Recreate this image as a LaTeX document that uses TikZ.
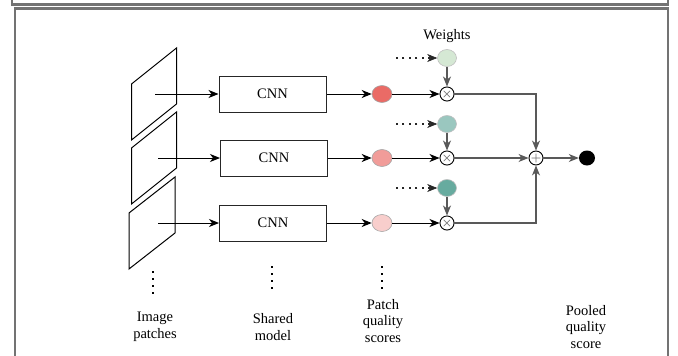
\documentclass[tikz,border=0pt]{standalone}
\usepackage{fontspec}
\setmainfont{Liberation Serif}
\usetikzlibrary{arrows.meta,shapes.geometric}

\definecolor{scoreA}{HTML}{EA6B66}
\definecolor{scoreB}{HTML}{F19C99}
\definecolor{scoreC}{HTML}{F8CECC}
\definecolor{weightA}{HTML}{D5E8D4}
\definecolor{weightB}{HTML}{9AC7BF}
\definecolor{weightC}{HTML}{67AB9F}

\begin{document}
\begin{tikzpicture}
		[x=1pt,y=-1pt,
		font=\fontsize{14.5}{16.5}\selectfont,
		>={Stealth[length=10pt,width=8pt,inset=3pt]},
		frame/.style={draw=black!55,line width=2.2pt},
		patch/.style={draw=black,line width=1pt,line join=miter},
		cnn/.style={draw=black!85,line width=1pt,minimum width=107pt,minimum height=36pt,inner sep=0pt},
		score/.style={ellipse,draw=black!35,line width=0.6pt,minimum width=20pt,minimum height=17pt,inner sep=0pt},
		weight/.style={ellipse,draw=black!25,line width=0.6pt,minimum width=19pt,minimum height=17pt,inner sep=0pt},
		op/.style={circle,draw=black,line width=0.9pt,fill=white,minimum size=14pt,inner sep=0pt,text=black!60,font=\fontsize{12}{12}\selectfont\boldmath},
		gry/.style={draw=black!65,line width=1.1pt},
		dts/.style={draw=black!85,line width=2pt,dash pattern=on 2pt off 4.5pt,>={Stealth[length=10pt,width=8pt,inset=3pt,line width=0.5pt]}},
		vdots/.style={line width=2.2pt,dash pattern=on 2.2pt off 4.8pt},
		lbl/.style={align=center}]

		\useasboundingbox (0,0) rectangle (678,356);

		% frames
		\draw[frame] (12,-8) rectangle (668,4.5);
		\draw[frame] (15,370) |- (668,8.5) -- (668,370);

		% image patches
		\coordinate (p1) at (154,94);
		\coordinate (p2) at (154,158);
		\coordinate (p3) at (152,223);
		\draw[patch] (p1) ++(-22.5,-10) -- ++(45,-36) -- ++(0,56) -- ++(-45,36) -- cycle;
		\draw[patch] (p2) ++(-22.5,-10) -- ++(45,-36) -- ++(0,56) -- ++(-45,36) -- cycle;
		\draw[patch] (p3) ++(-23,-10) -- ++(46,-36) -- ++(0,56) -- ++(-46,36) -- cycle;
		\coordinate (a1) at (155,94);
		\coordinate (a2) at (158,158);
		\coordinate (a3) at (158,223);

		\node[cnn] (cnn1) at (272.5,94) {CNN}
			edge [<-, line width=1pt]	(a1)
		;
		\node[cnn] (cnn2) at (274,158) {CNN}
			edge [<-, line width=1pt]	(a2)
		;
		\node[cnn] (cnn3) at (273,223) {CNN}
			edge [<-, line width=1pt]	(a3)
		;

		\node[score,fill=scoreA] (s1) at (382,94) {}
			edge [<-, line width=1pt]	(cnn1)
		;
		\node[score,fill=scoreB] (s2) at (382,158) {}
			edge [<-, line width=1pt]	(cnn2)
		;
		\node[score,fill=scoreC] (s3) at (382,223) {}
			edge [<-, line width=1pt]	(cnn3)
		;

		% weights
		\node[lbl] (lw) at (447,36) {Weights};
		\coordinate (d1) at (393,58);
		\coordinate (d2) at (393,124);
		\coordinate (d3) at (393,188);
		\node[weight,fill=weightA] (w1) at (447,58) {}
			edge [dts,<-]	(d1)
		;
		\node[weight,fill=weightB] (w2) at (447,124) {}
			edge [dts,<-]	(d2)
		;
		\node[weight,fill=weightC] (w3) at (447,188) {}
			edge [dts,<-]	(d3)
		;

		\node[op] (m1) at (447,94) {$\times$}
			edge [<-, line width=1pt]	(s1)
			edge [<-, gry]	(w1)
		;
		\node[op] (m2) at (447,158) {$\times$}
			edge [<-, line width=1pt]	(s2)
			edge [<-, gry]	(w2)
		;
		\node[op] (m3) at (447,223) {$\times$}
			edge [<-, line width=1pt]	(s3)
			edge [<-, gry]	(w3)
		;

		\node[op] (add) at (536,158) {$+$}
			edge [<-, gry]	(m2)
		;
		\draw[->, gry] (m1) -| (add);
		\draw[->, gry] (m3) -| (add);

		\node[ellipse,fill=black,minimum width=16pt,minimum height=15pt,inner sep=0pt] (pool) at (587,158) {}
			edge [<-, gry]	(add)
		;

		% dots and captions
		\draw[vdots] (153,271) -- (153,295);
		\draw[vdots] (272,266) -- (272,290);
		\draw[vdots] (382,266) -- (382,290);

		\node[lbl] (limg) at (155,327) {Image\\patches};
		\node[lbl] (lmod) at (273,327) {Shared\\model};
		\node[lbl] (lsc) at (383,321) {Patch\\quality\\scores};
		\node[lbl] (lpool) at (586,327) {Pooled\\quality\\score};
\end{tikzpicture}
\end{document}
